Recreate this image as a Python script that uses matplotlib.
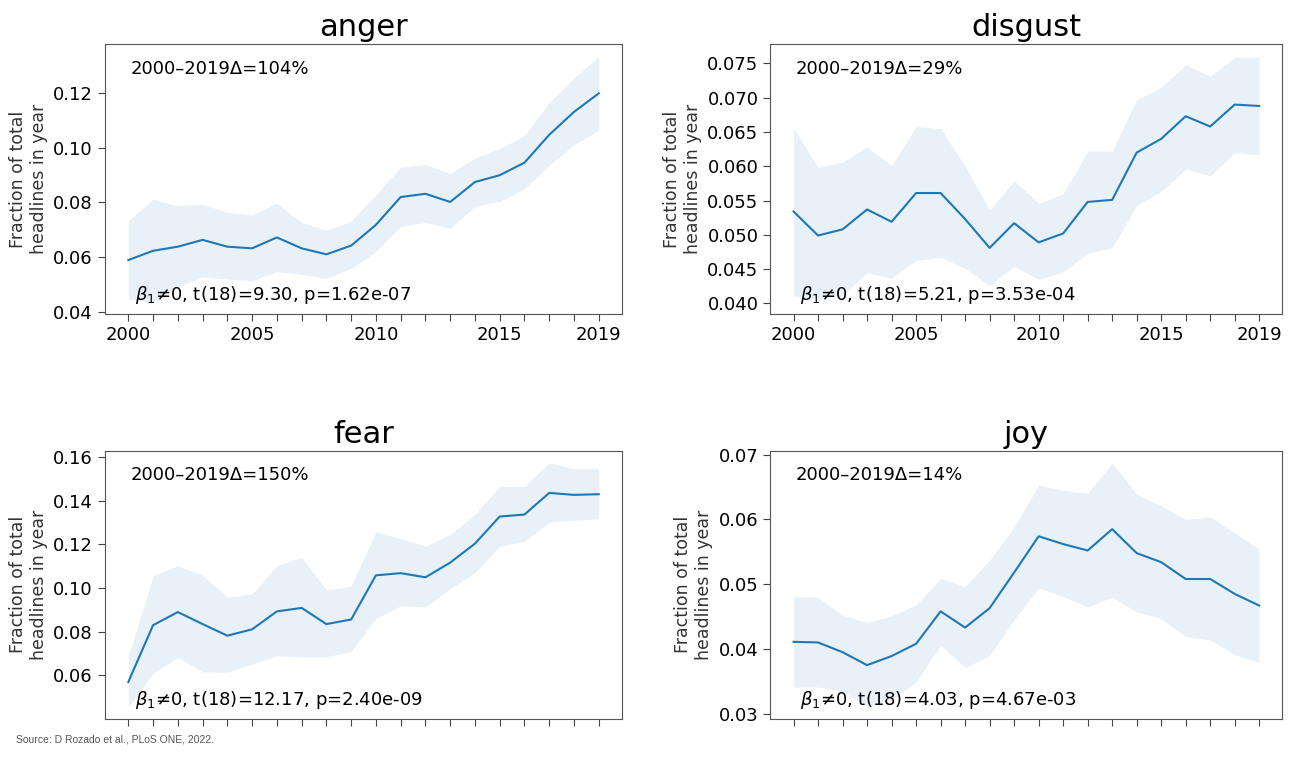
import matplotlib
import matplotlib.pyplot as plt
import numpy as np
from matplotlib.ticker import MultipleLocator, FormatStrFormatter

matplotlib.use("Agg")

years = np.arange(2000, 2020)

# mean fraction and band (lower / upper) for each emotion
anger_mean = [0.0589, 0.0623, 0.0638, 0.0663, 0.0638, 0.0632, 0.0672, 0.0632, 0.0610, 0.0642,
              0.0718, 0.0820, 0.0832, 0.0802, 0.0875, 0.0900, 0.0946, 0.1048, 0.1132, 0.1200]
anger_low = [0.0447, 0.0435, 0.0490, 0.0528, 0.0519, 0.0513, 0.0547, 0.0537, 0.0522, 0.0559,
             0.0620, 0.0712, 0.0727, 0.0705, 0.0786, 0.0804, 0.0851, 0.0936, 0.1012, 0.1064]
anger_high = [0.0732, 0.0812, 0.0788, 0.0794, 0.0764, 0.0754, 0.0797, 0.0726, 0.0699, 0.0732,
              0.0828, 0.0929, 0.0939, 0.0906, 0.0963, 0.0998, 0.1045, 0.1166, 0.1256, 0.1335]

disgust_mean = [0.0534, 0.0499, 0.0508, 0.0537, 0.0519, 0.0561, 0.0561, 0.0523, 0.0481, 0.0517,
                0.0489, 0.0502, 0.0548, 0.0551, 0.0620, 0.0640, 0.0673, 0.0658, 0.0690, 0.0688]
disgust_low = [0.0411, 0.0407, 0.0412, 0.0445, 0.0437, 0.0463, 0.0467, 0.0451, 0.0426, 0.0454,
               0.0435, 0.0446, 0.0473, 0.0481, 0.0543, 0.0563, 0.0596, 0.0586, 0.0620, 0.0617]
disgust_high = [0.0656, 0.0598, 0.0606, 0.0628, 0.0601, 0.0658, 0.0655, 0.0600, 0.0536, 0.0579,
                0.0546, 0.0560, 0.0622, 0.0622, 0.0697, 0.0715, 0.0748, 0.0731, 0.0759, 0.0759]

fear_mean = [0.0570, 0.0830, 0.0890, 0.0835, 0.0782, 0.0811, 0.0893, 0.0909, 0.0835, 0.0856,
             0.1058, 0.1068, 0.1049, 0.1116, 0.1203, 0.1327, 0.1336, 0.1435, 0.1426, 0.1429]
fear_low = [0.0455, 0.0611, 0.0682, 0.0617, 0.0614, 0.0652, 0.0690, 0.0685, 0.0685, 0.0710,
            0.0861, 0.0918, 0.0913, 0.0997, 0.1070, 0.1191, 0.1214, 0.1301, 0.1310, 0.1316]
fear_high = [0.0688, 0.1055, 0.1102, 0.1058, 0.0958, 0.0973, 0.1102, 0.1140, 0.0991, 0.1009,
             0.1257, 0.1226, 0.1191, 0.1245, 0.1337, 0.1465, 0.1464, 0.1573, 0.1546, 0.1546]

joy_mean = [0.0411, 0.0410, 0.0395, 0.0375, 0.0389, 0.0408, 0.0458, 0.0433, 0.0463, 0.0518,
            0.0574, 0.0562, 0.0552, 0.0585, 0.0548, 0.0534, 0.0508, 0.0508, 0.0485, 0.0467]
joy_low = [0.0341, 0.0341, 0.0335, 0.0311, 0.0322, 0.0349, 0.0406, 0.0371, 0.0390, 0.0445,
           0.0494, 0.0481, 0.0465, 0.0480, 0.0457, 0.0447, 0.0419, 0.0414, 0.0391, 0.0379]
joy_high = [0.0481, 0.0480, 0.0452, 0.0441, 0.0451, 0.0468, 0.0509, 0.0496, 0.0537, 0.0588,
            0.0653, 0.0645, 0.0640, 0.0687, 0.0639, 0.0621, 0.0600, 0.0604, 0.0579, 0.0554]

titles = ["anger", "disgust", "fear", "joy"]
deltas = ["2000–2019Δ=104%", "2000–2019Δ=29%", "2000–2019Δ=150%", "2000–2019Δ=14%"]
stats = [r"$\beta_1$≠0, t(18)=9.30, p=1.62e-07",
         r"$\beta_1$≠0, t(18)=5.21, p=3.53e-04",
         r"$\beta_1$≠0, t(18)=12.17, p=2.40e-09",
         r"$\beta_1$≠0, t(18)=4.03, p=4.67e-03"]
means = [anger_mean, disgust_mean, fear_mean, joy_mean]
lows = [anger_low, disgust_low, fear_low, joy_low]
highs = [anger_high, disgust_high, fear_high, joy_high]

# axes rectangles [left, bottom, width, height] in figure fraction
boxes = [[0.080, 0.588, 0.395, 0.354],
         [0.588, 0.588, 0.391, 0.354],
         [0.080, 0.058, 0.395, 0.351],
         [0.588, 0.058, 0.391, 0.351]]

fig = plt.figure(figsize=(13.1, 7.63), dpi=100)

for i in range(4):
    ax = fig.add_axes(boxes[i])
    ax.fill_between(years, lows[i], highs[i], color="#1f77b4", alpha=0.1, linewidth=0)
    ax.plot(years, means[i], color="#1f77b4", linewidth=1.5)
    ax.set_title(titles[i], fontsize=22)
    ax.set_ylabel("Fraction of total\nheadlines in year", fontsize=12.5, color="#333333")
    ax.set_xticks(years)
    if i < 2:
        ax.set_xticklabels([str(y) if y in (2000, 2005, 2010, 2015, 2019) else "" for y in years])
    else:
        ax.set_xticklabels([])
    ax.tick_params(axis="both", labelsize=13, length=5, color="#444444")
    for sp in ax.spines.values():
        sp.set_color("#555555")
    ax.text(0.05, 0.91, deltas[i], transform=ax.transAxes, fontsize=13, va="center")
    ax.text(0.058, 0.07, stats[i], transform=ax.transAxes, fontsize=13, va="center")

    if titles[i] == "disgust":
        ax.yaxis.set_major_locator(MultipleLocator(0.005))
        ax.yaxis.set_major_formatter(FormatStrFormatter("%.3f"))
        ax.set_ylim(0.0384, 0.0778)
    if titles[i] == "fear":
        ax.set_ylim(0.0402, 0.1627)

fig.text(0.012, 0.027, "Source: D Rozado et al., PLoS ONE, 2022.", fontsize=7.5, color="#555555",
         family="Liberation Sans")

plt.savefig("out.png", dpi=100)
